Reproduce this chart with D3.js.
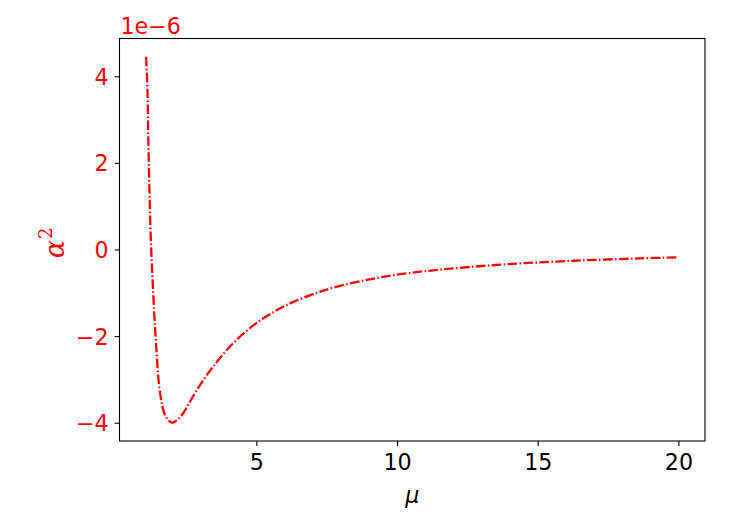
<!DOCTYPE html>
<html><head><meta charset="utf-8">
<script src="https://cdn.jsdelivr.net/npm/d3@7"></script>
<style>body{margin:0;background:#fff}svg{display:block}</style>
</head><body>
<script>
const mu = [1.08,1.13,1.16,1.20,1.25,1.34,1.44,1.58,1.76,2.0,2.2,2.41,2.76,3.12,3.47,3.95,4.54,5.13,5.73,6.32,7.15,7.74,8.93,10.11,11.29,12.48,13.9,16.27,18.64,20.0];
const alpha2 = [4.45,3.68,2.52,1.37,0.21,-1.09,-2.25,-3.33,-3.83,-4.0,-3.93,-3.77,-3.38,-3.01,-2.70,-2.32,-1.94,-1.64,-1.40,-1.21,-1.00,-0.88,-0.70,-0.57,-0.48,-0.41,-0.34,-0.26,-0.205,-0.18];
const xTicks = [5,10,15,20];
const yTicks = [-4,-2,0,2,4];
const offsetText = "1e\u22126";

const W=747,H=528;
const L=119.5,R=705,T=38.5,B=441;
const svg=d3.select("body").append("svg").attr("width",W).attr("height",H);
const x=d3.scaleLinear().domain([0.135,20.945]).range([L,R]);
const y=d3.scaleLinear().domain([-4.4225,4.8725]).range([B,T]);
const font="DejaVu Sans";
const fs=22.2;

const data=mu.map((m,i)=>[m,alpha2[i]]);
svg.append("path").datum(data)
  .attr("d",d3.line().x(d=>x(d[0])).y(d=>y(d[1])).curve(d3.curveCatmullRom.alpha(0.5)))
  .attr("fill","none").attr("stroke","red").attr("stroke-width",2.3)
  .attr("stroke-dasharray","9.6,2.4,1.5,2.4");

const xa=svg.append("g").attr("transform",`translate(0,${B})`)
  .call(d3.axisBottom(x).tickValues(xTicks).tickSize(4.9).tickPadding(4.9).tickFormat(d3.format("d")));
xa.select(".domain").remove();
xa.selectAll("line").attr("stroke","#000").attr("stroke-width",1.1);
xa.selectAll("text").attr("font-family",font).attr("font-size",fs).attr("fill","#000").attr("dy","0.865em");

const ya=svg.append("g").attr("transform",`translate(${L},0)`)
  .call(d3.axisLeft(y).tickValues(yTicks).tickSize(4.9).tickPadding(6).tickFormat(d=>d<0?"\u2212"+Math.abs(d):String(d)));
ya.select(".domain").remove();
ya.selectAll("line").attr("stroke","#000").attr("stroke-width",1.1);
ya.selectAll("text").attr("font-family",font).attr("font-size",fs).attr("fill","red").attr("dy","0.36em");

svg.append("rect").attr("x",L).attr("y",T).attr("width",R-L).attr("height",B-T)
  .attr("fill","none").attr("stroke","#000").attr("stroke-width",1.1);

svg.append("text").attr("x",L+1).attr("y",34).attr("font-family",font).attr("font-size",fs)
  .attr("fill","red").text(offsetText);

svg.append("text").attr("x",(L+R)/2).attr("y",503).attr("text-anchor","middle")
  .attr("font-family",font).attr("font-style","italic").attr("font-size",fs).attr("fill","#000").text("\u03bc");

const yl=svg.append("text").attr("transform","translate(64,243) rotate(-90)").attr("text-anchor","middle")
  .attr("font-family","DejaVu Serif").attr("font-size",27).attr("fill","red");
yl.append("tspan").attr("font-style","italic").text("\u03b1");
yl.append("tspan").attr("font-size",18).attr("dy",-12).attr("dx",1).text("2");
</script>
</body></html>
